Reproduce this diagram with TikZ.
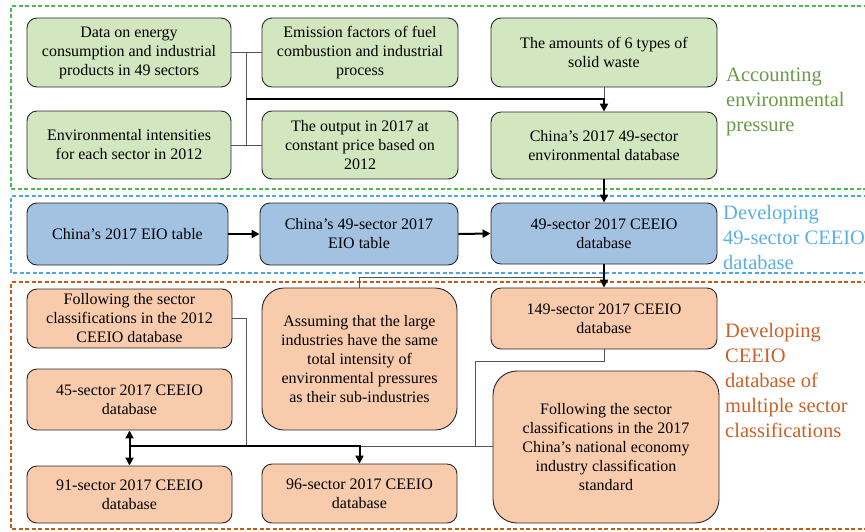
\documentclass[tikz,border=0pt]{standalone}
\usepackage{fontspec}
\setmainfont{Liberation Serif}
\usetikzlibrary{arrows.meta}
\definecolor{gfill}{HTML}{D2E7BF}
\definecolor{bfill}{HTML}{A3C1E0}
\definecolor{ofill}{HTML}{F8CBAD}
\definecolor{gframe}{HTML}{4CBB4C}
\definecolor{bframe}{HTML}{4AA8E0}
\definecolor{oframe}{HTML}{C55A11}
\definecolor{glabel}{HTML}{6A9A48}
\definecolor{blabel}{HTML}{5AB0E0}
\definecolor{olabel}{HTML}{C8622A}
\definecolor{thinc}{HTML}{555555}
\tikzset{
  box/.style={draw=black!85, line width=0.9pt, rounded corners=10pt, align=center,
    inner sep=0pt, font=\fontsize{16}{19}\selectfont},
  gbox/.style={box, fill=gfill},
  bbox/.style={box, fill=bfill},
  obox/.style={box, fill=ofill},
  frame/.style={dashed, line width=1.4pt, dash pattern=on 4pt off 2.5pt},
  sidelabel/.style={anchor=west, align=left, inner sep=0pt, font=\fontsize{20.5}{25}\selectfont},
  thinline/.style={draw=thinc, line width=1pt},
  thickline/.style={draw=black, line width=2pt},
  thickarrow/.style={thickline, -{Triangle[length=8pt,width=8pt]}},
  dblarrow/.style={thickline, {Triangle[length=8pt,width=8pt]}-{Triangle[length=8pt,width=8pt]}}
}
\begin{document}
\begin{tikzpicture}[x=1pt,y=-1pt]
\useasboundingbox (0,0) rectangle (865,531);
\clip (0,0) rectangle (865,531);
% frames
\draw[frame, draw=gframe] (900,6) -- (11,6) -- (11,189) -- (900,189);
\draw[frame, draw=bframe] (900,196) -- (11,196) -- (11,273) -- (900,273);
\draw[frame, draw=oframe] (900,282) -- (11,282) -- (11,529) -- (900,529);
% green boxes
\node[gbox, minimum width=204pt, minimum height=69pt] (d1) at (129,52.5) {Data on energy\\consumption and industrial\\products in 49 sectors};
\node[gbox, minimum width=196pt, minimum height=69pt] (d2) at (360,52.5) {Emission factors of fuel\\combustion and industrial\\process};
\node[gbox, minimum width=226pt, minimum height=69pt] (d3) at (604,52.5) {The amounts of 6 types of\\solid waste};
\node[gbox, minimum width=204pt, minimum height=68pt] (d4) at (129,145) {Environmental intensities\\for each sector in 2012};
\node[gbox, minimum width=196pt, minimum height=68pt] (d5) at (360,145) {The output in 2017 at\\constant price based on\\2012};
\node[gbox, minimum width=226pt, minimum height=67pt] (d6) at (604,145.5) {China’s 2017 49-sector\\environmental database};
% blue boxes
\node[bbox, minimum width=201pt, minimum height=62pt] (b1) at (127.5,234) {China’s 2017 EIO table};
\node[bbox, minimum width=198pt, minimum height=62pt] (b2) at (359,234) {China’s 49-sector 2017\\EIO table};
\node[bbox, minimum width=226pt, minimum height=61pt] (b3) at (604,233.5) {49-sector 2017 CEEIO\\database};
% orange boxes
\node[obox, minimum width=205pt, minimum height=59pt] (o1) at (129.5,318.5) {Following the sector\\classifications in the 2012\\CEEIO database};
\node[obox, rounded corners=22pt, minimum width=195pt, minimum height=142pt] (o2) at (359.5,359) {Assuming that the large\\industries have the same\\total intensity of\\environmental pressures\\as their sub-industries};
\node[obox, minimum width=226pt, minimum height=61pt] (o3) at (604,318.5) {149-sector 2017 CEEIO\\database};
\node[obox, minimum width=205pt, minimum height=61pt] (o4) at (129.5,399.5) {45-sector 2017 CEEIO\\database};
\node[obox, minimum width=205pt, minimum height=57pt] (o5) at (129.5,494.5) {91-sector 2017 CEEIO\\database};
\node[obox, minimum width=195pt, minimum height=59pt] (o6) at (359.5,493.5) {96-sector 2017 CEEIO\\database};
\node[obox, rounded corners=24pt, minimum width=226pt, minimum height=152pt] (o7) at (606,447) {Following the sector\\classifications in the 2017\\China’s national economy\\industry classification\\standard};
% side labels
\node[sidelabel, text=glabel] (lg) at (726,102) {Accounting\\environmental\\pressure};
\node[sidelabel, text=blabel] (lb) at (723,237) {Developing\\49-sector CEEIO\\database};
\node[sidelabel, text=olabel] (lo) at (725,380) {Developing\\CEEIO\\database of\\multiple sector\\classifications};
% green connectors
\coordinate (j1) at (246,99);
\draw[thinline] (d1.east) -- (d2.west);
\draw[thinline] (d4.east) -- (d5.west);
\draw[thinline] (d1.east -| j1) -- (d4.east -| j1);
\draw[thinline] (d3.south) -- (d3.south |- j1);
\draw[thickarrow] (j1) -| (d6.north);
% blue connectors
\draw[thickarrow] (d6.south) -- (b3.north);
\draw[thickarrow] (b1.east) -- (b2.west);
\draw[thickarrow] (b2.east) -- (b3.west);
% orange connectors
\coordinate (j2) at (604,277);
\coordinate (j3) at (475,361);
\coordinate (j4) at (475,446);
\coordinate (j5) at (246,446);
\coordinate (j6) at (129.5,446);
\draw[thinline] (j2) -| (o2.north);
\draw[thinline] (o3.south) |- (j3) -- (j4) -- (j4 -| o7.west);
\draw[thinline] (o1.east) -| (j5);
\draw[thinline] (o6.north |- j6) -- (j4);
\draw[thickarrow] (b3.south) -- (o3.north);
\draw[dblarrow] (o4.south) -- (o5.north);
\draw[thickarrow] (j6) -| (o6.north);
\end{tikzpicture}
\end{document}
